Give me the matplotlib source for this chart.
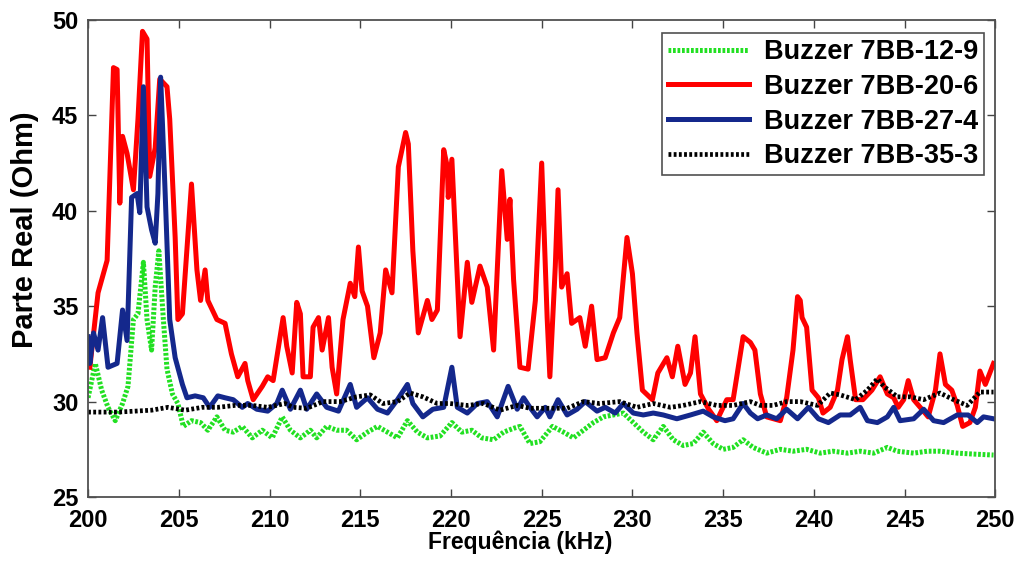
import matplotlib.pyplot as plt
import numpy as np

plt.rcParams['font.family'] = ['Liberation Sans', 'DejaVu Sans']
plt.rcParams['font.weight'] = 'bold'

# Buzzer 7BB-12-9 (verde, pontilhado)
f_12_9 = [200.0, 200.4, 200.75, 201.1, 201.5, 201.9, 202.2, 202.5, 202.75, 203.05, 203.25, 203.5,
          203.7, 203.9, 204.15, 204.35, 204.65, 204.95, 205.25, 205.7, 206.2, 206.6, 207.1, 207.55,
          208.0, 208.5, 209.05, 209.6, 210.15, 210.7, 211.15, 211.7, 212.25, 212.6, 213.15, 213.7,
          214.25, 214.8, 215.4, 215.95, 216.5, 217.05, 217.6, 218.15, 218.7, 219.4, 220.05, 220.6,
          221.15, 221.7, 222.35, 222.9, 223.45, 223.8, 224.35, 224.9, 225.6, 226.2, 226.75, 227.3,
          227.85, 228.4, 228.95, 229.5, 230.05, 230.6, 231.15, 231.7, 232.25, 232.8, 233.35, 233.9,
          234.45, 235.0, 235.55, 236.1, 236.65, 237.4, 238.15, 238.85, 239.6, 240.35, 241.05, 241.85,
          242.55, 243.3, 244.05, 244.6, 245.5, 246.25, 246.95, 247.9, 248.8, 249.9]
r_12_9 = [30.2, 32.0, 30.6, 29.7, 29.0, 29.9, 30.8, 34.3, 34.6, 37.3, 34.3, 32.7,
          36.0, 37.9, 34.3, 31.7, 30.4, 29.9, 28.7, 29.0, 28.9, 28.5, 29.2, 28.5,
          28.4, 28.7, 28.1, 28.5, 28.1, 29.2, 28.5, 28.1, 28.5, 28.1, 28.7, 28.5,
          28.5, 28.0, 28.4, 28.7, 28.4, 28.1, 29.0, 28.4, 28.1, 28.2, 28.9, 28.4,
          28.5, 28.1, 28.0, 28.4, 28.6, 28.7, 27.8, 27.9, 28.7, 28.4, 28.1, 28.5,
          28.9, 29.2, 29.3, 29.4, 28.9, 28.4, 28.0, 28.7, 28.0, 27.7, 27.8, 28.4,
          27.8, 27.5, 27.6, 28.0, 27.6, 27.3, 27.5, 27.4, 27.5, 27.3, 27.4, 27.3,
          27.4, 27.3, 27.6, 27.4, 27.3, 27.4, 27.4, 27.3, 27.25, 27.2]

# Buzzer 7BB-20-6 (vermelho)
f_20_6 = [200.1, 200.55, 201.05, 201.4, 201.6, 201.75, 201.9, 202.15, 202.5, 202.75, 203.0, 203.25,
          203.4, 203.7, 203.95, 204.35, 204.5, 204.8, 204.95, 205.2, 205.7, 206.0, 206.2, 206.45,
          206.6, 207.1, 207.55, 207.9, 208.25, 208.65, 208.8, 209.1, 209.6, 209.9, 210.2, 210.75,
          210.95, 211.25, 211.5, 211.7, 211.85, 212.25, 212.4, 212.7, 212.9, 213.25, 213.45, 213.7,
          214.05, 214.45, 214.7, 214.9, 215.1, 215.4, 215.75, 216.1, 216.4, 216.75, 217.1, 217.5,
          217.65, 217.9, 218.2, 218.7, 218.95, 219.25, 219.6, 219.8, 219.85, 220.05, 220.5, 220.9,
          221.15, 221.6, 222.0, 222.35, 222.8, 223.1, 223.25, 223.45, 223.8, 224.25, 224.65, 225.0,
          225.3, 225.45, 225.75, 225.9, 226.1, 226.4, 226.65, 227.1, 227.4, 227.75, 228.05, 228.5,
          228.95, 229.3, 229.7, 230.0, 230.25, 230.55, 231.1, 231.4, 231.9, 232.2, 232.5, 232.9,
          233.2, 233.45, 233.75, 234.2, 234.65, 235.2, 235.55, 236.1, 236.5, 236.75, 237.05, 237.4,
          238.15, 238.5, 238.85, 239.1, 239.25, 239.35, 239.6, 239.9, 240.25, 240.5, 240.9, 241.3,
          241.55, 241.85, 242.0, 242.3, 242.7, 243.2, 243.65, 244.05, 244.4, 244.65, 244.95, 245.2,
          245.5, 245.95, 246.3, 246.7, 246.95, 247.25, 247.6, 247.9, 248.2, 248.6, 248.9, 249.15,
          249.45, 249.9]
r_20_6 = [31.8, 35.7, 37.4, 47.5, 47.4, 40.4, 43.9, 43.0, 41.1, 44.8, 49.4, 49.0,
          41.8, 43.3, 46.9, 46.5, 44.8, 38.6, 34.3, 34.6, 41.4, 36.9, 35.3, 36.9,
          35.3, 34.3, 34.1, 32.5, 31.3, 32.0, 31.1, 30.1, 30.8, 31.3, 31.1, 34.4,
          32.9, 31.5, 35.2, 34.6, 31.3, 31.3, 33.9, 34.4, 32.7, 34.4, 31.8, 30.4,
          34.3, 36.2, 35.5, 38.1, 35.8, 35.0, 32.3, 33.6, 36.9, 35.7, 42.3, 44.1,
          43.5, 37.9, 33.6, 35.3, 34.3, 34.8, 43.2, 42.3, 40.7, 42.7, 33.4, 37.3,
          35.2, 37.1, 36.0, 32.7, 42.1, 38.5, 40.6, 36.4, 31.8, 31.7, 35.3, 42.5,
          34.4, 31.3, 37.1, 41.1, 36.0, 36.7, 34.1, 34.4, 32.9, 35.0, 32.2, 32.3,
          33.6, 34.4, 38.6, 36.7, 33.6, 30.6, 30.1, 31.5, 32.3, 31.3, 32.9, 30.9,
          31.5, 33.4, 30.4, 29.6, 29.0, 30.1, 30.1, 33.4, 33.1, 32.7, 30.4, 29.2,
          29.0, 30.2, 32.7, 35.5, 35.3, 34.4, 33.9, 30.6, 30.2, 29.4, 29.7, 30.6,
          32.2, 33.4, 32.2, 30.1, 30.1, 30.6, 31.3, 30.4, 30.2, 29.7, 30.1, 31.1,
          30.1, 29.6, 29.2, 30.6, 32.5, 30.9, 30.6, 29.8, 28.7, 28.9, 29.7, 31.6,
          30.9, 32.0]

# Buzzer 7BB-27-4 (azul)
f_27_4 = [200.0, 200.1, 200.3, 200.55, 200.8, 201.1, 201.6, 201.9, 202.15, 202.4, 202.7, 202.85,
          203.05, 203.25, 203.5, 203.7, 203.85, 204.0, 204.25, 204.5, 204.8, 205.2, 205.45, 205.9,
          206.35, 206.7, 207.15, 207.55, 208.0, 208.5, 208.8, 209.3, 209.9, 210.4, 210.7, 211.15,
          211.7, 212.05, 212.6, 213.15, 213.8, 214.45, 214.8, 215.4, 215.95, 216.5, 217.05, 217.6,
          217.9, 218.45, 219.0, 219.6, 220.05, 220.35, 220.9, 221.45, 222.0, 222.55, 223.15, 223.65,
          224.0, 224.35, 224.75, 225.2, 225.45, 225.9, 226.4, 226.95, 227.4, 228.05, 228.5, 229.05,
          229.5, 230.05, 230.6, 231.15, 231.7, 232.45, 233.2, 233.9, 234.45, 235.1, 235.55, 236.1,
          236.5, 236.9, 237.4, 237.95, 238.5, 239.1, 239.7, 240.25, 240.8, 241.45, 242.0, 242.55,
          242.95, 243.5, 244.05, 244.4, 244.75, 245.5, 246.05, 246.6, 247.15, 247.9, 248.5, 249.0,
          249.35, 249.9]
r_27_4 = [33.4, 32.0, 33.6, 32.7, 34.4, 31.8, 32.0, 34.8, 33.2, 40.7, 40.9, 39.9,
          46.5, 40.2, 39.0, 38.3, 40.9, 47.0, 40.9, 34.3, 32.3, 30.9, 30.2, 30.3,
          30.2, 29.7, 30.3, 30.2, 30.1, 29.7, 29.9, 29.6, 29.5, 29.9, 30.6, 29.6,
          30.6, 29.6, 30.4, 29.7, 29.5, 30.9, 29.7, 30.2, 29.6, 29.4, 30.1, 30.9,
          29.9, 29.2, 29.6, 29.7, 31.8, 29.7, 29.4, 29.9, 30.0, 29.2, 30.8, 29.6,
          30.2, 29.7, 29.2, 29.7, 29.2, 30.1, 29.3, 29.6, 30.0, 29.5, 29.7, 29.4,
          29.9, 29.4, 29.3, 29.4, 29.3, 29.1, 29.3, 29.5, 29.2, 29.0, 29.1, 29.9,
          29.4, 29.1, 29.3, 29.1, 29.6, 29.1, 29.7, 29.1, 28.9, 29.3, 29.3, 29.7,
          29.0, 28.9, 29.2, 29.7, 29.0, 29.1, 29.6, 29.0, 28.9, 29.3, 29.3, 28.9,
          29.2, 29.1]

# Buzzer 7BB-35-3 (preto, pontilhado)
f_35_3 = [200.0, 201.65, 203.5, 204.4, 205.35, 206.3, 207.15, 208.1, 209.05, 209.9, 210.85, 211.3,
          212.05, 212.95, 213.9, 214.8, 215.55, 216.25, 217.05, 217.75, 218.45, 219.25, 219.95, 220.9,
          221.8, 222.7, 223.65, 224.35, 225.45, 226.4, 227.3, 228.2, 229.3, 230.25, 231.15, 232.1,
          232.8, 233.75, 234.65, 235.55, 236.5, 237.05, 237.75, 238.5, 239.25, 240.2, 240.9, 241.45,
          242.3, 242.95, 243.5, 243.85, 244.6, 245.3, 246.05, 246.95, 247.7, 248.45, 249.15, 249.9]
r_35_3 = [29.45, 29.45, 29.55, 29.7, 29.55, 29.7, 29.7, 29.8, 29.8, 29.7, 29.9, 29.7,
          29.65, 30.0, 30.0, 30.25, 30.35, 29.9, 30.0, 30.45, 30.25, 29.9, 29.9, 29.8,
          29.9, 29.55, 29.8, 29.65, 29.65, 29.65, 30.0, 29.9, 30.0, 29.7, 29.9, 29.7,
          29.8, 30.0, 29.8, 29.8, 30.0, 29.8, 29.8, 30.0, 30.0, 29.8, 30.45, 30.35,
          30.1, 30.6, 31.2, 30.8, 30.25, 30.25, 30.1, 30.45, 30.1, 29.8, 30.5, 30.5]

fig = plt.figure(figsize=(10.24, 5.69), dpi=100)
ax = fig.add_axes([0.086, 0.1265, 0.886, 0.8385])

ax.plot(f_12_9, r_12_9, color='#22e022', linewidth=3.6, linestyle=(0, (0.55, 0.35)),
        label='Buzzer 7BB-12-9')
ax.plot(f_20_6, r_20_6, color='#ff0000', linewidth=3.6, label='Buzzer 7BB-20-6')
ax.plot(f_27_4, r_27_4, color='#14288c', linewidth=3.6, label='Buzzer 7BB-27-4')
ax.plot(f_35_3, r_35_3, color='black', linewidth=3.4, linestyle=(0, (0.6, 0.5)),
        label='Buzzer 7BB-35-3')

ax.set_xlim(200, 250)
ax.set_ylim(25, 50)
ax.set_xticks(np.arange(200, 251, 5))
ax.set_yticks(np.arange(25, 51, 5))
ax.tick_params(direction='in', top=True, right=True, labelsize=17, length=6, width=1,
               colors='#444444', labelcolor='black')
ax.tick_params(axis='x', pad=8.5)
ax.tick_params(axis='y', pad=7)
for lbl in ax.get_xticklabels() + ax.get_yticklabels():
    lbl.set_fontweight('bold')
for sp in ax.spines.values():
    sp.set_color('#505050')
    sp.set_linewidth(1.3)

ax.set_xlabel('Frequência (kHz)', fontsize=16.5, fontweight='bold')
ax.xaxis.set_label_coords(0.476, -0.07)
ax.set_ylabel('Parte Real (Ohm)', fontsize=21, fontweight='bold')
ax.yaxis.set_label_coords(-0.054, 0.56)

leg = ax.legend(loc='upper right', prop={'weight': 'bold', 'size': 19.5},
                frameon=True, fancybox=False, handlelength=3.0, borderpad=0.22,
                labelspacing=0.32, bbox_to_anchor=(0.988, 0.972), handletextpad=0.55,
                borderaxespad=0.0)
leg.get_frame().set_edgecolor('#505050')
leg.get_frame().set_linewidth(1.2)
leg.get_frame().set_alpha(1.0)

fig.savefig('out.png', dpi=100)
